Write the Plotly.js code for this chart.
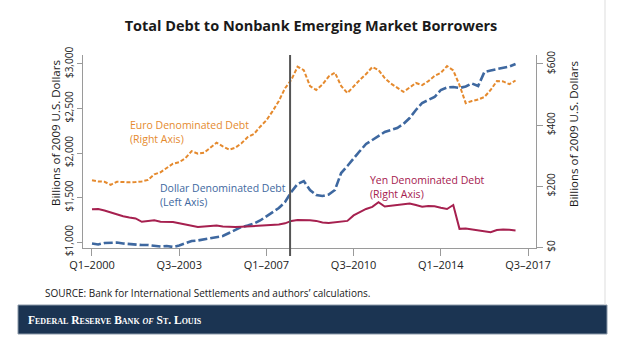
<!DOCTYPE html>
<html>
<head>
<meta charset="utf-8">
<script src="https://cdn.plot.ly/plotly-3.0.1.min.js"></script>
<style>
  html, body { margin: 0; padding: 0; background: #ffffff; }
  #chart { width: 625px; height: 348px; }
</style>
</head>
<body>
<div id="chart"></div>
<script>
// Quarterly observations, Q1-2000 through Q1-2017
const startYear = 2000;

// Dollar denominated debt (left axis, billions of 2009 US$)
const dollarDebt = [
  983, 972, 989, 994, 994, 983, 978, 966, 966, 966,
  961, 949, 955, 944, 961, 989, 1011, 1017, 1028, 1045,
  1056, 1067, 1101, 1135, 1169, 1185, 1208, 1242, 1292, 1337,
  1382, 1449, 1562, 1652, 1685, 1584, 1528, 1517, 1534, 1584,
  1775, 1854, 1944, 2022, 2101, 2146, 2191, 2236, 2258, 2281,
  2326, 2393, 2483, 2562, 2596, 2629, 2708, 2736, 2742, 2730,
  2747, 2781, 2753, 2910, 2927, 2944, 2955, 2972, 3000
];

// Euro denominated debt (right axis)
const euroDebt = [
  220, 216, 215, 205, 215, 213, 213, 214, 216, 221,
  239, 246, 259, 274, 279, 292, 315, 307, 310, 325,
  343, 331, 320, 326, 341, 361, 371, 395, 416, 446,
  479, 521, 548, 591, 580, 528, 515, 533, 559, 572,
  528, 505, 528, 548, 567, 590, 580, 554, 536, 521,
  509, 523, 538, 531, 544, 561, 571, 593, 579, 531,
  472, 479, 484, 492, 515, 544, 543, 534, 546
];

// Yen denominated debt (right axis)
const yenDebt = [
  125, 126, 121, 115, 107, 102, 98, 95, 84, 87,
  89, 84, 83, 83, 79, 75, 70, 67, 69, 71,
  72, 69, 67, 67, 68, 69, 69, 71, 72, 74,
  75, 79, 87, 90, 90, 89, 87, 82, 80, 83,
  85, 87, 105, 116, 126, 133, 148, 134, 136, 138,
  141, 144, 139, 133, 136, 135, 130, 126, 139, 61,
  62, 59, 57, 54, 50, 57, 59, 58, 56
];

// Axis ticks
const xTickVals = [2000, 2003.5, 2007, 2010.5, 2014, 2017.5];
const xTickText = ['Q1\u20132000', 'Q3\u20132003', 'Q1\u20132007', 'Q3\u20132010', 'Q1\u20132014', 'Q3\u20132017'];
const leftTickVals = [1000, 1500, 2000, 2500, 3000];
const leftTickText = ['$1,000', '$1,500', '$2,000', '$2,500', '$3,000'];
const rightTickVals = [0, 200, 400, 600];
const rightTickText = ['$0', '$200', '$400', '$600'];
const crisisMarker = 2007.95;

// x positions (quarter index -> fractional year)
const quarters = dollarDebt.map((_, i) => startYear + i / 4);

const FONT = 'Open Sans, Lato, sans-serif';
const blue = '#3e68a0';
const orange = '#e58a2e';
const crimson = '#a6204f';

const traces = [
  {
    x: quarters, y: euroDebt, yaxis: 'y2', type: 'scatter', mode: 'lines',
    line: { color: orange, width: 2, dash: '4px,2px' }, hoverinfo: 'skip'
  },
  {
    x: quarters, y: yenDebt, yaxis: 'y2', type: 'scatter', mode: 'lines',
    line: { color: crimson, width: 2 }, hoverinfo: 'skip'
  },
  {
    x: quarters, y: dollarDebt, yaxis: 'y', type: 'scatter', mode: 'lines',
    line: { color: blue, width: 2.6, dash: '9px,3px' }, hoverinfo: 'skip'
  }
];

// plot area in pixels: left 83, right 536, top 55, bottom 248
const px = v => (v - 83) / 453;
const py = v => (248 - v) / 193;

const layout = {
  width: 625, height: 348,
  margin: { l: 83, r: 89, t: 55, b: 100 },
  paper_bgcolor: '#ffffff', plot_bgcolor: '#ffffff',
  showlegend: false,
  font: { family: FONT, color: '#222222' },
  title: {
    text: '<b>Total Debt to Nonbank Emerging Market Borrowers</b>',
    font: { family: FONT, size: 14.5, color: '#1a1a1a' },
    xref: 'container', x: 311 / 625, xanchor: 'center',
    yref: 'container', y: 1 - 26 / 348, yanchor: 'middle'
  },
  xaxis: {
    range: [1999.639, 2017.821],
    tickvals: xTickVals, ticktext: xTickText,
    showgrid: false, zeroline: false,
    showline: true, linecolor: '#9a9a9a', linewidth: 1,
    ticks: 'outside', ticklen: 7, tickcolor: '#9a9a9a',
    tickfont: { family: FONT, size: 11, color: '#222222' }
  },
  yaxis: {
    range: [932.6, 3101],
    tickvals: leftTickVals, ticktext: leftTickText,
    showgrid: false, zeroline: false,
    showline: true, linecolor: '#9a9a9a', linewidth: 1,
    ticks: 'outside', ticklen: 5, tickcolor: '#9a9a9a',
    tickangle: -90,
    tickfont: { family: FONT, size: 10, color: '#222222' }
  },
  yaxis2: {
    overlaying: 'y', side: 'right',
    range: [-1.6, 629.4],
    tickvals: rightTickVals, ticktext: rightTickText,
    showgrid: false, zeroline: false,
    showline: true, linecolor: '#9a9a9a', linewidth: 1,
    ticks: 'outside', ticklen: 6, tickcolor: '#9a9a9a',
    tickangle: -90,
    tickfont: { family: FONT, size: 10, color: '#222222' }
  },
  shapes: [
    { type: 'line', xref: 'x', yref: 'paper', x0: crisisMarker, x1: crisisMarker,
      y0: py(256), y1: 1, line: { color: '#555555', width: 2 } },
    { type: 'rect', xref: 'paper', yref: 'paper', x0: px(18), x1: px(607),
      y0: py(334), y1: py(305), fillcolor: '#1b3452', line: { color: '#8a98a8', width: 1 } },
    { type: 'line', xref: 'paper', yref: 'paper', x0: px(605), x1: px(605),
      y0: py(305), y1: py(0), line: { color: '#dddddd', width: 1 } }
  ],
  annotations: [
    { text: 'Billions of 2009 U.S. Dollars', xref: 'paper', yref: 'paper',
      x: px(55), y: py(133), xanchor: 'center', yanchor: 'middle', textangle: -90,
      showarrow: false, font: { family: FONT, size: 11.5, color: '#1a1a1a' } },
    { text: 'Billions of 2009 U.S. Dollars', xref: 'paper', yref: 'paper',
      x: px(573), y: py(134), xanchor: 'center', yanchor: 'middle', textangle: -90,
      showarrow: false, font: { family: FONT, size: 11.5, color: '#1a1a1a' } },
    { text: 'Euro Denominated Debt<br>(Right Axis)', xref: 'paper', yref: 'paper',
      x: px(128), y: py(131.5), xanchor: 'left', yanchor: 'middle', align: 'left',
      showarrow: false, font: { family: FONT, size: 10.5, color: orange } },
    { text: 'Dollar Denominated Debt<br>(Left Axis)', xref: 'paper', yref: 'paper',
      x: px(158), y: py(195), xanchor: 'left', yanchor: 'middle', align: 'left',
      showarrow: false, font: { family: FONT, size: 10.5, color: blue } },
    { text: 'Yen Denominated Debt<br>(Right Axis)', xref: 'paper', yref: 'paper',
      x: px(368), y: py(186.5), xanchor: 'left', yanchor: 'middle', align: 'left',
      showarrow: false, font: { family: FONT, size: 10.5, color: crimson } },
    { text: 'SOURCE: Bank for International Settlements and authors\u2019 calculations.',
      xref: 'paper', yref: 'paper', x: px(43), y: py(293), xanchor: 'left', yanchor: 'middle',
      showarrow: false, font: { family: FONT, size: 10, color: '#1a1a1a' } },
    { text: '<b>Federal Reserve Bank <i>of</i> St. Louis</b>',
      xref: 'paper', yref: 'paper', x: px(26), y: py(320), xanchor: 'left', yanchor: 'middle',
      showarrow: false,
      font: { family: 'Liberation Serif, DejaVu Serif, serif', size: 11.5, color: '#ffffff', variant: 'small-caps' } }
  ]
};

Plotly.newPlot('chart', traces, layout, { staticPlot: true, displayModeBar: false });
</script>
</body>
</html>
